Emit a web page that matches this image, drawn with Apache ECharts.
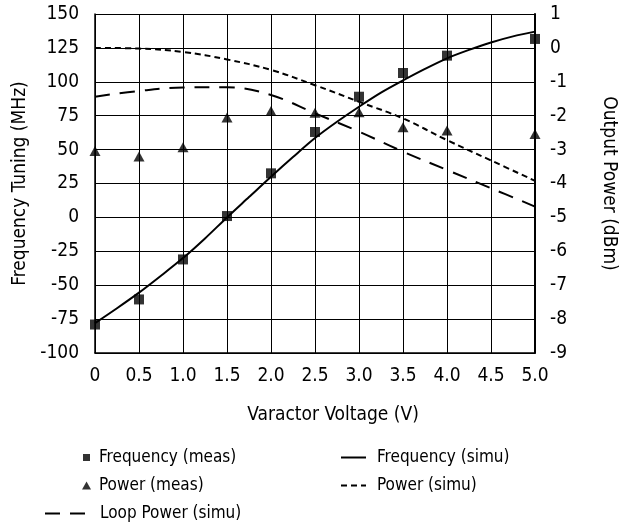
<!DOCTYPE html>
<html>
<head>
<meta charset="utf-8">
<script src="https://cdn.jsdelivr.net/npm/echarts@6/dist/echarts.min.js"></script>
<style>
html,body{margin:0;padding:0;background:#fff;}
#chart{width:622px;height:529px;}
</style>
</head>
<body>
<div id="chart"></div>
<script>
// ---- data ----
var xTickLabels = ['0','0.5','1.0','1.5','2.0','2.5','3.0','3.5','4.0','4.5','5.0'];
var measVoltage = [0, 0.5, 1.0, 1.5, 2.0, 2.5, 3.0, 3.5, 4.0, 5.0];
var freqMeas = [-79, -60.5, -31, 1, 32.5, 63, 89, 106.5, 119.3, 131.6];
var powerMeas = [-3.04, -3.2, -2.93, -2.05, -1.86, -1.91, -1.9, -2.34, -2.44, -2.54];
var simuVoltage = [0, 0.25, 0.5, 0.75, 1.0, 1.25, 1.5, 1.75, 2.0, 2.25, 2.5, 2.75, 3.0, 3.25, 3.5, 3.75, 4.0, 4.25, 4.5, 4.75, 5.0];
var freqSimu = [-78, -67, -55.5, -43, -30, -15.5, 0, 15, 30, 44.5, 58.5, 70.5, 81.6, 92, 101, 109.5, 117.3, 123.5, 129, 133.5, 137];
var powerSimuV = [0, 0.5, 1.0, 1.5, 2.0, 2.5, 3.0, 3.5, 4.0, 4.5, 5.0];
var powerSimu = [0.0, -0.02, -0.12, -0.34, -0.65, -1.1, -1.59, -2.08, -2.72, -3.32, -3.92];
var loopPowerSimu = [-1.44, -1.27, -1.17, -1.16, -1.39, -1.93, -2.47, -3.06, -3.6, -4.14, -4.68];

function zip(xs, ys){ return xs.map(function(x,i){ return [x, ys[i]]; }); }

var FONT = "'DejaVu Sans Condensed', sans-serif";
var txt = {color:'#000', fontFamily: FONT, fontSize: 19};
var ltxt = {color:'#000', fontFamily: FONT, fontSize: 17};
var hideSym = {opacity: 0};

var chart = echarts.init(document.getElementById('chart'), null, {renderer:'canvas'});
var option = {
  backgroundColor: '#fff',
  animation: false,
  grid: {left: 95, right: 87, top: 14, bottom: 176, containLabel: false, outerBoundsMode: 'none'},
  xAxis: {
    type: 'value', min: 0, max: 5, interval: 0.5,
    name: 'Varactor Voltage (V)', nameLocation: 'middle', nameGap: 53,
    nameTextStyle: Object.assign({}, txt, {padding:[0,0,0,36]}),
    axisLine: {show: true, onZero: false, lineStyle: {color:'#000', width: 1.5}},
    axisTick: {show: false},
    axisLabel: Object.assign({}, txt, {margin: 14, formatter: function(v){ return xTickLabels[Math.round(v/0.5)]; }}),
    splitLine: {show: true, lineStyle: {color:'#000', width: 1}}
  },
  yAxis: [{
    type: 'value', min: -100, max: 150, interval: 25, position: 'left',
    name: 'Frequency Tuning (MHz)', nameLocation: 'middle', nameGap: 62,
    nameTextStyle: txt,
    axisLine: {show: true, onZero: false, lineStyle: {color:'#000', width: 1.5}},
    axisTick: {show: false},
    axisLabel: Object.assign({}, txt, {margin: 16}),
    splitLine: {show: true, lineStyle: {color:'#000', width: 1}}
  }, {
    type: 'value', min: -9, max: 1, interval: 1, position: 'right',
    name: 'Output Power (dBm)', nameLocation: 'middle', nameGap: 64, nameRotate: -90,
    nameTextStyle: txt,
    axisLine: {show: true, onZero: false, lineStyle: {color:'#000', width: 2}},
    axisTick: {show: false},
    axisLabel: Object.assign({}, txt, {margin: 15}),
    splitLine: {show: false}
  }],
  legend: [
    {data:[{name:'Frequency (meas)', icon:'rect'}], left: 83, top: 449, itemWidth: 7, itemHeight: 7, padding: 0, textStyle: Object.assign({}, ltxt, {padding:[0,0,0,4]})},
    {data:[{name:'Power (meas)', icon:'triangle'}], left: 82, top: 477, itemWidth: 9, itemHeight: 8, padding: 0, textStyle: Object.assign({}, ltxt, {padding:[0,0,0,3]})},
    {data:[{name:'Loop Power (simu)', itemStyle: hideSym}], left: 44, top: 505, itemWidth: 42, itemHeight: 10, padding: 0, textStyle: Object.assign({}, ltxt, {padding:[0,0,0,8]})},
    {data:[{name:'Frequency (simu)', itemStyle: hideSym}], left: 340, top: 449, itemWidth: 25, itemHeight: 10, padding: 0, textStyle: Object.assign({}, ltxt, {padding:[0,0,0,6]})},
    {data:[{name:'Power (simu)', itemStyle: hideSym}], left: 340, top: 477, itemWidth: 25, itemHeight: 10, padding: 0, textStyle: Object.assign({}, ltxt, {padding:[0,0,0,6]})}
  ],
  series: [
    {name:'Frequency (simu)', type:'line', yAxisIndex:0, data: zip(simuVoltage, freqSimu), symbol:'none', smooth: 0.3,
     lineStyle:{color:'#000', width:2}, itemStyle:{color:'#000'}, z: 3},
    {name:'Power (simu)', type:'line', yAxisIndex:1, data: zip(powerSimuV, powerSimu), symbol:'none', smooth: 0.4,
     lineStyle:{color:'#000', width:2, type:[6,4]}, itemStyle:{color:'#000'}, z: 3},
    {name:'Loop Power (simu)', type:'line', yAxisIndex:1, data: zip(powerSimuV, loopPowerSimu), symbol:'none', smooth: 0.4,
     lineStyle:{color:'#000', width:2, type:[15,10]}, itemStyle:{color:'#000'}, z: 3},
    {name:'Frequency (meas)', type:'scatter', yAxisIndex:0, data: zip(measVoltage, freqMeas), symbol:'rect', symbolSize: 10,
     itemStyle:{color:'#000'}, z: 4},
    {name:'Power (meas)', type:'scatter', yAxisIndex:1, data: zip(measVoltage, powerMeas), symbol:'triangle', symbolSize: [11, 10],
     itemStyle:{color:'#000'}, z: 4}
  ]
};
chart.setOption(option);
</script>
</body>
</html>
